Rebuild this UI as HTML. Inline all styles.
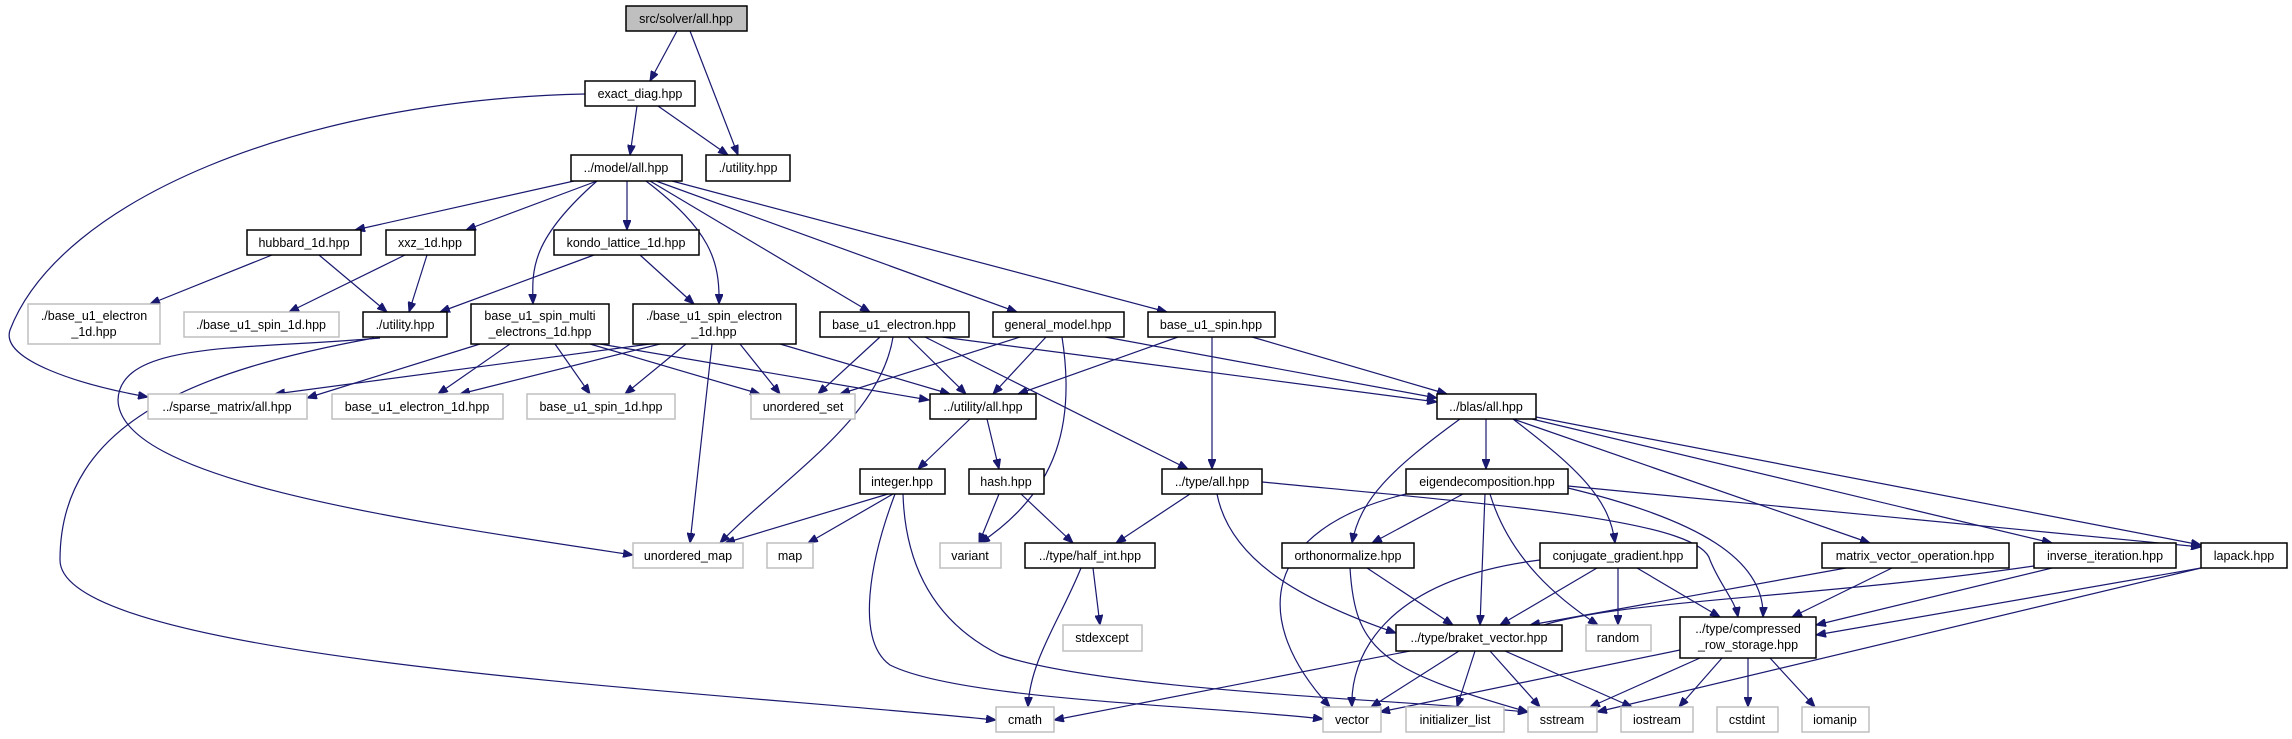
<!DOCTYPE html>
<html><head><meta charset="utf-8"><style>
html,body{margin:0;padding:0;background:#fff;}
svg{display:block}
text{font-family:"Liberation Sans",Arial,sans-serif;font-size:12.5px;fill:#000;text-anchor:middle}
.n{fill:#fff;stroke:#000;stroke-width:1.5}
.g{fill:#fff;stroke:#bfbfbf;stroke-width:1.5}
.r{fill:#bfbfbf;stroke:#000;stroke-width:1.5}
path{fill:none;stroke:#191970;stroke-width:1.2}
</style></head><body>
<svg width="2292" height="739" viewBox="0 0 2292 739" xmlns="http://www.w3.org/2000/svg">
<defs><marker id="a" markerWidth="11" markerHeight="8" refX="10" refY="4" orient="auto" markerUnits="userSpaceOnUse"><path d="M0,0 L10,4 L0,8 Z" style="fill:#191970;stroke:#191970;stroke-width:1"/></marker></defs>
<g marker-end="url(#a)">
<path d="M677,31 L650,81"/>
<path d="M690,31 L738,155"/>
<path d="M637,106 L630,155"/>
<path d="M658,106 L728,155"/>
<path d="M585,94 C300,100 60,200 10,330 C0,360 80,385 148,397"/>
<path d="M574,181 L355,230"/>
<path d="M597,181 L466,230"/>
<path d="M627,181 L627,230"/>
<path d="M597,181 C530,240 532,270 533,304"/>
<path d="M646,181 C710,230 720,260 719,304"/>
<path d="M650,181 L870,312"/>
<path d="M656,181 L1017,312"/>
<path d="M672,181 L1167,312"/>
<path d="M272,255 L150,304"/>
<path d="M319,255 L387,312"/>
<path d="M405,255 L289,312"/>
<path d="M427,255 L409,312"/>
<path d="M594,255 L440,312"/>
<path d="M640,255 L694,304"/>
<path d="M374,338 C200,370 60,420 60,560 C60,660 700,690 996,720"/>
<path d="M380,338 C250,350 120,340 118,400 C120,480 400,520 633,555"/>
<path d="M480,344 L307,398"/>
<path d="M510,344 L438,394"/>
<path d="M555,344 L590,394"/>
<path d="M590,344 L760,394"/>
<path d="M600,344 L929,400"/>
<path d="M650,344 L275,394"/>
<path d="M660,344 L460,394"/>
<path d="M686,344 L625,394"/>
<path d="M740,344 L780,394"/>
<path d="M780,344 L950,394"/>
<path d="M712,344 L690,543"/>
<path d="M880,337 L818,394"/>
<path d="M908,337 L966,394"/>
<path d="M893,337 C880,420 780,480 720,543"/>
<path d="M925,337 L1188,469"/>
<path d="M942,337 L1437,402"/>
<path d="M1020,337 L840,394"/>
<path d="M1046,337 L993,394"/>
<path d="M1062,337 C1075,420 1060,490 980,543"/>
<path d="M1105,337 L1437,398"/>
<path d="M1178,337 L1018,394"/>
<path d="M1212,337 L1212,469"/>
<path d="M1252,337 L1447,394"/>
<path d="M970,419 L918,469"/>
<path d="M987,419 L999,469"/>
<path d="M888,494 L725,543"/>
<path d="M893,494 L808,543"/>
<path d="M895,494 C870,560 855,640 890,665 C960,700 1200,705 1323,719"/>
<path d="M903,494 C905,560 930,620 1000,655 C1100,690 1400,700 1528,712"/>
<path d="M999,494 L979,543"/>
<path d="M1021,494 L1073,543"/>
<path d="M1190,494 L1116,543"/>
<path d="M1217,494 C1230,560 1300,600 1396,633"/>
<path d="M1262,482 C1500,505 1700,520 1710,560 C1720,585 1735,600 1738,617"/>
<path d="M1081,568 C1060,620 1030,660 1028,707"/>
<path d="M1093,568 L1100,625"/>
<path d="M1486,419 L1486,469"/>
<path d="M1460,419 C1390,470 1360,500 1352,543"/>
<path d="M1513,419 C1580,470 1610,500 1615,543"/>
<path d="M1513,419 L1870,543"/>
<path d="M1532,419 L2052,543"/>
<path d="M1536,417 L2201,545"/>
<path d="M1463,494 L1372,543"/>
<path d="M1485,494 L1480,625"/>
<path d="M1490,494 C1510,560 1560,600 1598,625"/>
<path d="M1406,494 C1260,530 1250,620 1330,707"/>
<path d="M1568,488 C1700,520 1765,560 1763,617"/>
<path d="M1568,486 L2201,547"/>
<path d="M1367,568 L1453,625"/>
<path d="M1350,568 C1355,650 1380,670 1528,712"/>
<path d="M1597,568 L1500,625"/>
<path d="M1618,568 L1618,625"/>
<path d="M1637,568 L1720,617"/>
<path d="M1540,560 C1380,580 1350,660 1352,707"/>
<path d="M1846,568 L1530,625"/>
<path d="M1892,568 L1792,617"/>
<path d="M2034,566 C1800,600 1600,600 1530,630"/>
<path d="M2052,568 L1816,625"/>
<path d="M2201,568 L1816,635"/>
<path d="M2201,568 L1597,712"/>
<path d="M1410,651 L1054,720"/>
<path d="M1459,651 L1371,707"/>
<path d="M1475,651 L1457,707"/>
<path d="M1490,651 L1540,707"/>
<path d="M1505,651 L1632,707"/>
<path d="M1680,650 L1380,712"/>
<path d="M1700,658 L1590,707"/>
<path d="M1722,658 L1679,707"/>
<path d="M1748,658 L1748,707"/>
<path d="M1770,658 L1815,707"/>
</g>
<rect class="r" x="626" y="6" width="121" height="25"/><text x="686" y="23">src/solver/all.hpp</text>
<rect class="n" x="585" y="81" width="110" height="25"/><text x="640" y="98">exact_diag.hpp</text>
<rect class="n" x="571" y="155" width="111" height="26"/><text x="626" y="172">../model/all.hpp</text>
<rect class="n" x="706" y="155" width="84" height="26"/><text x="748" y="172">./utility.hpp</text>
<rect class="n" x="247" y="230" width="114" height="25"/><text x="304" y="247">hubbard_1d.hpp</text>
<rect class="n" x="386" y="230" width="89" height="25"/><text x="430" y="247">xxz_1d.hpp</text>
<rect class="n" x="554" y="230" width="145" height="25"/><text x="626" y="247">kondo_lattice_1d.hpp</text>
<rect class="g" x="28" y="304" width="132" height="40"/><text x="94" y="320">./base_u1_electron</text><text x="94" y="336">_1d.hpp</text>
<rect class="g" x="184" y="312" width="155" height="25"/><text x="261" y="329">./base_u1_spin_1d.hpp</text>
<rect class="n" x="363" y="312" width="84" height="25"/><text x="405" y="329">./utility.hpp</text>
<rect class="n" x="471" y="304" width="138" height="40"/><text x="540" y="320">base_u1_spin_multi</text><text x="540" y="336">_electrons_1d.hpp</text>
<rect class="n" x="633" y="304" width="163" height="40"/><text x="714" y="320">./base_u1_spin_electron</text><text x="714" y="336">_1d.hpp</text>
<rect class="n" x="820" y="312" width="149" height="25"/><text x="894" y="329">base_u1_electron.hpp</text>
<rect class="n" x="993" y="312" width="131" height="25"/><text x="1058" y="329">general_model.hpp</text>
<rect class="n" x="1148" y="312" width="127" height="25"/><text x="1211" y="329">base_u1_spin.hpp</text>
<rect class="g" x="148" y="394" width="159" height="25"/><text x="227" y="411">../sparse_matrix/all.hpp</text>
<rect class="g" x="332" y="394" width="171" height="25"/><text x="417" y="411">base_u1_electron_1d.hpp</text>
<rect class="g" x="527" y="394" width="148" height="25"/><text x="601" y="411">base_u1_spin_1d.hpp</text>
<rect class="g" x="751" y="394" width="104" height="25"/><text x="803" y="411">unordered_set</text>
<rect class="n" x="930" y="394" width="106" height="25"/><text x="983" y="411">../utility/all.hpp</text>
<rect class="n" x="1437" y="394" width="99" height="25"/><text x="1486" y="411">../blas/all.hpp</text>
<rect class="n" x="860" y="469" width="85" height="25"/><text x="902" y="486">integer.hpp</text>
<rect class="n" x="969" y="469" width="75" height="25"/><text x="1006" y="486">hash.hpp</text>
<rect class="n" x="1162" y="469" width="100" height="25"/><text x="1212" y="486">../type/all.hpp</text>
<rect class="n" x="1406" y="469" width="162" height="25"/><text x="1487" y="486">eigendecomposition.hpp</text>
<rect class="g" x="633" y="543" width="110" height="25"/><text x="688" y="560">unordered_map</text>
<rect class="g" x="767" y="543" width="46" height="25"/><text x="790" y="560">map</text>
<rect class="g" x="940" y="543" width="61" height="25"/><text x="970" y="560">variant</text>
<rect class="n" x="1025" y="543" width="130" height="25"/><text x="1090" y="560">../type/half_int.hpp</text>
<rect class="n" x="1282" y="543" width="132" height="25"/><text x="1348" y="560">orthonormalize.hpp</text>
<rect class="n" x="1540" y="543" width="157" height="25"/><text x="1618" y="560">conjugate_gradient.hpp</text>
<rect class="n" x="1822" y="543" width="187" height="25"/><text x="1915" y="560">matrix_vector_operation.hpp</text>
<rect class="n" x="2034" y="543" width="142" height="25"/><text x="2105" y="560">inverse_iteration.hpp</text>
<rect class="n" x="2201" y="543" width="86" height="25"/><text x="2244" y="560">lapack.hpp</text>
<rect class="g" x="1063" y="625" width="79" height="26"/><text x="1102" y="642">stdexcept</text>
<rect class="n" x="1396" y="625" width="166" height="26"/><text x="1479" y="642">../type/braket_vector.hpp</text>
<rect class="g" x="1586" y="625" width="65" height="26"/><text x="1618" y="642">random</text>
<rect class="n" x="1680" y="617" width="136" height="41"/><text x="1748" y="633">../type/compressed</text><text x="1748" y="649">_row_storage.hpp</text>
<rect class="g" x="996" y="707" width="58" height="25"/><text x="1025" y="724">cmath</text>
<rect class="g" x="1323" y="707" width="58" height="25"/><text x="1352" y="724">vector</text>
<rect class="g" x="1406" y="707" width="98" height="25"/><text x="1455" y="724">initializer_list</text>
<rect class="g" x="1528" y="707" width="69" height="25"/><text x="1562" y="724">sstream</text>
<rect class="g" x="1621" y="707" width="72" height="25"/><text x="1657" y="724">iostream</text>
<rect class="g" x="1717" y="707" width="61" height="25"/><text x="1747" y="724">cstdint</text>
<rect class="g" x="1802" y="707" width="67" height="25"/><text x="1835" y="724">iomanip</text>
</svg>
</body></html>
